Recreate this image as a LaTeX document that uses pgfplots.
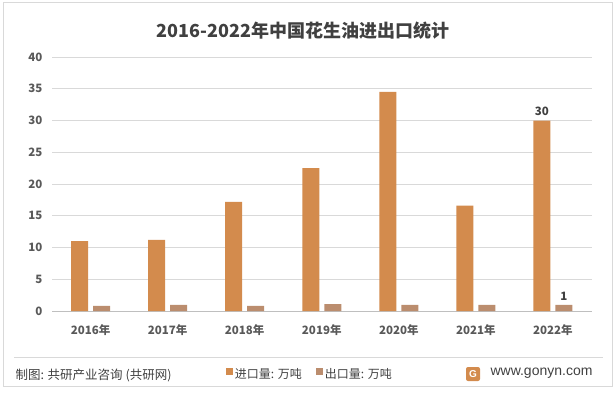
\documentclass[border=0pt]{standalone}
\usepackage{pgfplots}
\pgfplotsset{compat=1.18}
\usepackage{fontspec}
\setmainfont{Noto Sans CJK SC}
\setsansfont{Liberation Sans}
\definecolor{imp}{RGB}{211,139,77}
\definecolor{exp}{RGB}{187,141,110}
\definecolor{grid}{RGB}{217,217,217}
\definecolor{txt}{RGB}{89,89,89}
\definecolor{ttl}{RGB}{64,64,64}
\begin{document}
\begin{tikzpicture}[x=1pt,y=1pt]
\useasboundingbox (0,0) rectangle (615,392);
\draw[color=grid,line width=0.8pt] (3,6) rectangle (612,390);
\node[font=\fontsize{18}{20}\selectfont\bfseries,text=ttl] at (303,361) {2016-2022年中国花生油进出口统计};
\begin{axis}[
  at={(52pt,81pt)}, anchor=south west,
  scale only axis, width=539.5pt, height=254pt,
  ybar, bar width=17pt,
  xmin=-0.5, xmax=6.5, ymin=0, ymax=40,
  ytick={0,5,...,40},
  xtick={0,...,6},
  xticklabels={2016年,2017年,2018年,2019年,2020年,2021年,2022年},
  axis y line*=left, y axis line style={draw=none},
  axis x line*=bottom, x axis line style={draw={rgb,255:red,191;green,191;blue,191},line width=0.8pt},
  major tick length=0pt,
  ymajorgrids, grid style={color=grid,line width=0.8pt},
  /pgf/number format/assume math mode=true,
  tick label style={text=txt,font=\fontsize{11.5}{13}\selectfont\bfseries},
  yticklabel style={xshift=-6pt},
  xticklabel style={yshift=-10pt},
  legend style={at={(0.478,-0.248)},anchor=center,draw=none,fill=none,
    legend columns=2,font=\fontsize{12}{13}\selectfont,text=ttl,
    /tikz/every even column/.append style={column sep=12pt}},
  legend image code/.code={\fill[#1] (0pt,-1pt) rectangle (7pt,6pt);},
  clip=false,
]
\addplot[fill=imp,draw=none,bar shift=-11pt] coordinates {(0,11.0) (1,11.2) (2,17.2) (3,22.5) (4,34.5) (5,16.6) (6,30)};
\addlegendentry{进口量: 万吨}
\addplot[fill=exp,draw=none,bar shift=11pt] coordinates {(0,0.8) (1,0.95) (2,0.8) (3,1.1) (4,0.95) (5,0.95) (6,0.95)};
\addlegendentry{出口量: 万吨}
\addplot[draw=none,fill=none,bar shift=-11pt,forget plot,nodes near coords={30},
  every node near coord/.append style={text=ttl,font=\fontsize{11.5}{12}\selectfont\bfseries,yshift=1pt}] coordinates {(6,30)};
\addplot[draw=none,fill=none,bar shift=11pt,forget plot,nodes near coords={1},
  every node near coord/.append style={text=ttl,font=\fontsize{11.5}{12}\selectfont\bfseries,yshift=1pt}] coordinates {(6,0.95)};
\end{axis}
\draw[color=grid,line width=0.8pt] (14,35) -- (603,35);
\node[anchor=west,font=\fontsize{12.5}{14}\selectfont,text=ttl] at (12,17) {制图: 共研产业咨询 (共研网)};
\fill[imp,rounded corners=2pt] (466,11) rectangle (480,25);
\node[text=white,font=\sffamily\bfseries\fontsize{10}{10}\selectfont] at (473,18) {G};
\node[anchor=west,font=\sffamily\fontsize{14}{16}\selectfont,text=ttl] at (487,18.5) {www.gonyn.com};
\end{tikzpicture}
\end{document}
